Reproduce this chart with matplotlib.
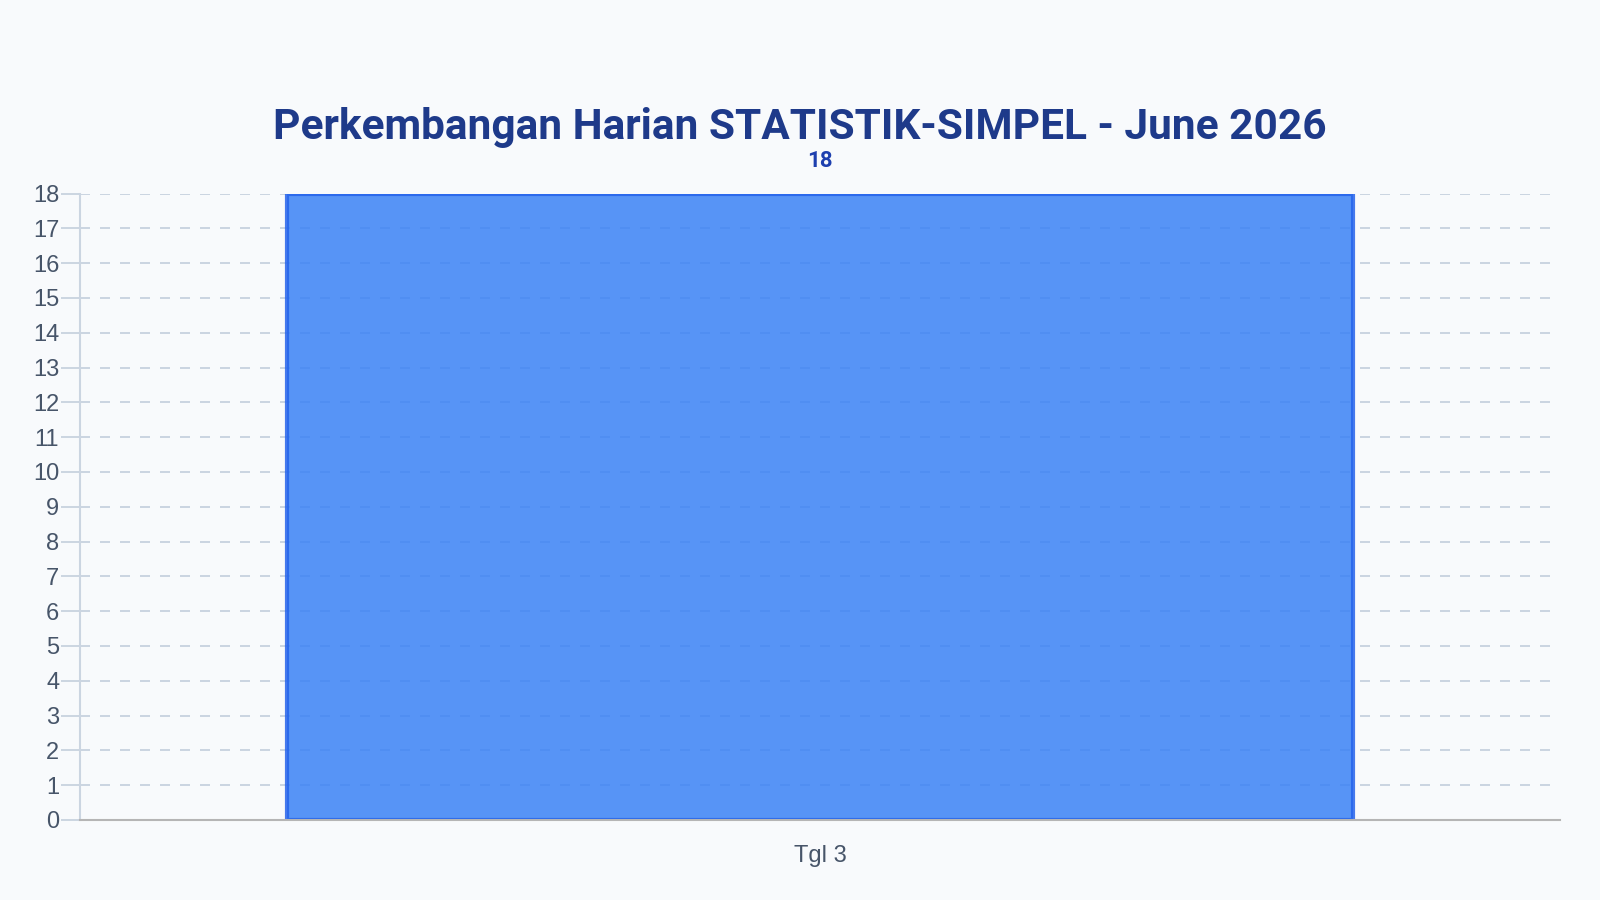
import matplotlib
matplotlib.use('Agg')
import matplotlib.pyplot as plt

# data
categories = ['Tgl 3']
values = [18]
title = 'Perkembangan Harian STATISTIK-SIMPEL - June 2026'

bg = '#f8fafc'
fig = plt.figure(figsize=(16, 9), dpi=100, facecolor=bg)
ax = fig.add_axes([0.05, 0.0889, 0.925, 0.696], facecolor=bg)

ax.grid(axis='y', color='#cbd5e1', linewidth=1.44, linestyle=(0, (5, 5)), zorder=0)
ax.set_axisbelow(True)
bars = ax.bar(categories, values, width=0.72, color='#3b82f6', alpha=0.85,
              edgecolor='#2563eb', linewidth=3, zorder=2)
for x, v in zip(categories, values):
    ax.text(x, v + 0.95, str(v), ha='center', va='center', fontsize=16,
            fontweight='bold', color='#1e40af', family='Roboto')

ax.set_xlim(-0.5, 0.5)
ax.set_ylim(0, 18)
ax.set_yticks(range(0, 19))
ax.tick_params(axis='y', colors='#cbd5e1', length=14, width=1.4, labelsize=17,
               labelcolor='#475569', pad=1)
ax.tick_params(axis='x', length=0, labelsize=17, labelcolor='#475569', pad=18)
for lab in ax.get_xticklabels() + ax.get_yticklabels():
    lab.set_family('Liberation Sans')
for tl in ax.yaxis.get_ticklines():
    tl.set_dashes((5, 5))

for s in ['top', 'right']:
    ax.spines[s].set_visible(False)
ax.spines['left'].set_color('#cbd5e1')
ax.spines['left'].set_linewidth(1.5)
ax.spines['bottom'].set_color('#b5b5b5')
ax.spines['bottom'].set_linewidth(1.5)

fig.text(0.5, 1 - 127 / 900, title, ha='center', va='center', fontsize=30.5,
         fontweight='bold', color='#1e3a8a', family='Roboto')

fig.savefig('out.png', dpi=100, facecolor=bg)
